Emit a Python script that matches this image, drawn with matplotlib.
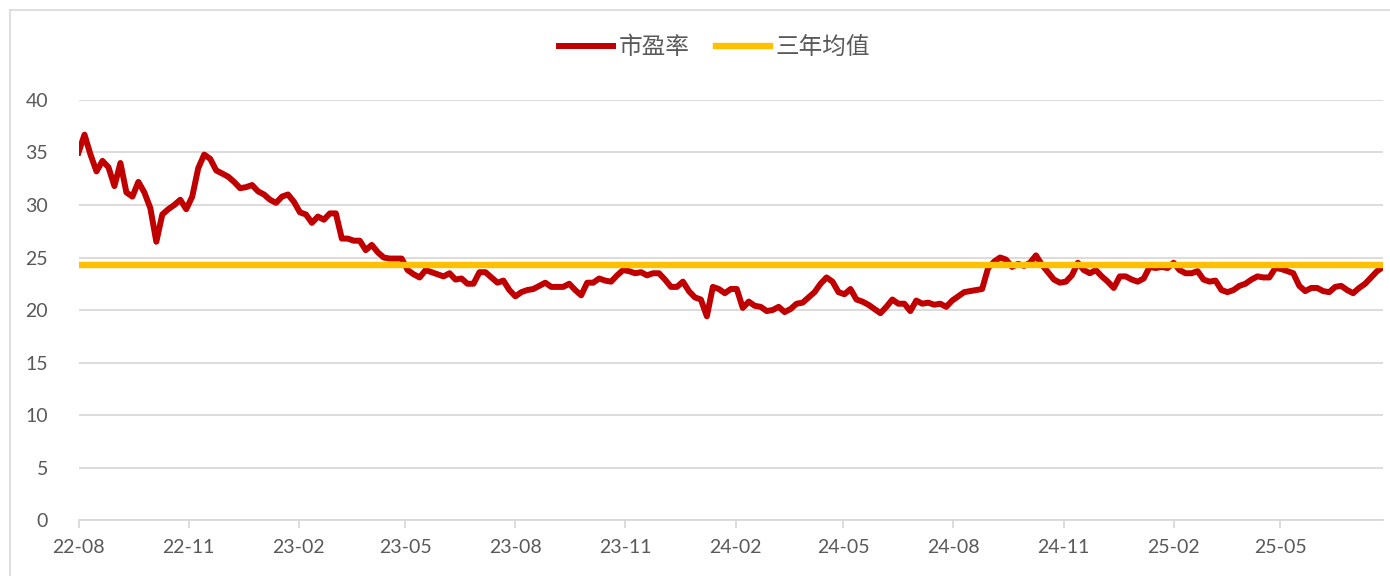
import pandas as pd
import matplotlib.pyplot as plt
import matplotlib.dates as mdates
from matplotlib.lines import Line2D

plt.rcParams['font.family'] = ['Lato', 'Noto Sans CJK SC', 'DejaVu Sans']

# PE ratio, sampled every 5 days from 2022-08-01
pe = [35.0, 36.7, 34.8, 33.2, 34.2, 33.6, 31.8, 34.0, 31.2, 30.8,
      32.2, 31.2, 29.7, 26.5, 29.1, 29.6, 30.0, 30.5, 29.6, 30.8,
      33.5, 34.8, 34.4, 33.3, 33.0, 32.7, 32.2, 31.6, 31.7, 31.9,
      31.3, 31.0, 30.5, 30.2, 30.8, 31.0, 30.3, 29.3, 29.1, 28.3,
      28.9, 28.6, 29.2, 29.2, 26.8, 26.8, 26.6, 26.6, 25.7, 26.2,
      25.5, 25.0, 24.9, 24.9, 24.9, 23.8, 23.4, 23.1, 23.8, 23.6,
      23.4, 23.2, 23.5, 22.9, 23.0, 22.5, 22.5, 23.6, 23.6, 23.1,
      22.6, 22.8, 21.9, 21.3, 21.7, 21.9, 22.0, 22.3, 22.6, 22.2,
      22.2, 22.2, 22.5, 21.9, 21.4, 22.6, 22.6, 23.0, 22.8, 22.7,
      23.3, 23.8, 23.7, 23.5, 23.6, 23.3, 23.5, 23.5, 22.9, 22.2,
      22.2, 22.7, 21.8, 21.2, 21.0, 19.4, 22.2, 22.0, 21.6, 22.0,
      22.0, 20.2, 20.8, 20.4, 20.3, 19.9, 20.0, 20.3, 19.8, 20.1,
      20.6, 20.7, 21.2, 21.7, 22.5, 23.1, 22.7, 21.7, 21.5, 22.0,
      21.0, 20.8, 20.5, 20.1, 19.7, 20.3, 21.0, 20.6, 20.6, 19.9,
      20.9, 20.6, 20.7, 20.5, 20.6, 20.3, 20.9, 21.3, 21.7, 21.8,
      21.9, 22.0, 24.0, 24.6, 25.0, 24.8, 24.1, 24.4, 24.2, 24.5,
      25.2, 24.3, 23.6, 22.9, 22.6, 22.7, 23.3, 24.5, 23.8, 23.5,
      23.8, 23.2, 22.7, 22.1, 23.2, 23.2, 22.9, 22.7, 23.0, 24.1,
      24.0, 24.1, 24.0, 24.5, 23.8, 23.5, 23.5, 23.7, 22.9, 22.7,
      22.8, 21.9, 21.7, 21.9, 22.3, 22.5, 22.9, 23.2, 23.1, 23.1,
      24.0, 23.9, 23.7, 23.5, 22.3, 21.8, 22.1, 22.1, 21.8, 21.7,
      22.2, 22.3, 21.9, 21.6, 22.1, 22.5, 23.1, 23.7, 24.1]
mean_3y = 24.3
dates = pd.date_range('2022-08-01', periods=len(pe), freq='5D')
tick_dates = pd.date_range('2022-08-01', '2025-05-01', freq='3MS')

fig = plt.figure(figsize=(13.9, 5.76), dpi=100)
ax = fig.add_axes([0.0565, 0.0972, 0.9385, 0.7292])

ax.plot(dates, pe, color='#C00000', lw=4.3, solid_joinstyle='round', label='市盈率', zorder=3)
ax.plot(dates, [mean_3y] * len(dates), color='#FFC000', lw=4.6, label='三年均值', zorder=4)

ax.set_ylim(0, 40)
ax.set_yticks(range(0, 41, 5))
ax.set_xlim(dates[0], dates[-1])
ax.set_xticks(tick_dates)
ax.xaxis.set_major_formatter(mdates.DateFormatter('%y-%m'))

ax.grid(axis='y', color='#D9D9D9', lw=1.3)
ax.set_axisbelow(True)
for s in ['left', 'right', 'top']:
    ax.spines[s].set_visible(False)
ax.spines['bottom'].set_color('#D9D9D9')
ax.spines['bottom'].set_linewidth(1.3)
ax.tick_params(axis='y', length=0, pad=22, labelsize=14, labelcolor='#595959')
ax.tick_params(axis='x', length=6, width=1.3, color='#D9D9D9', pad=8,
               labelsize=14, labelcolor='#595959')

fig.legend(loc='center', bbox_to_anchor=(0.514, 0.918), ncol=2, frameon=False,
           fontsize=17, labelcolor='#595959', handlelength=2.3, handletextpad=0.25,
           columnspacing=1.1)

# chart border
fig.add_artist(Line2D([0.0075, 0.0075], [0, 0.983], color='#D9D9D9', lw=1.2))
fig.add_artist(Line2D([0.0075, 1], [0.983, 0.983], color='#D9D9D9', lw=1.2))

fig.savefig('out.png', dpi=100)
